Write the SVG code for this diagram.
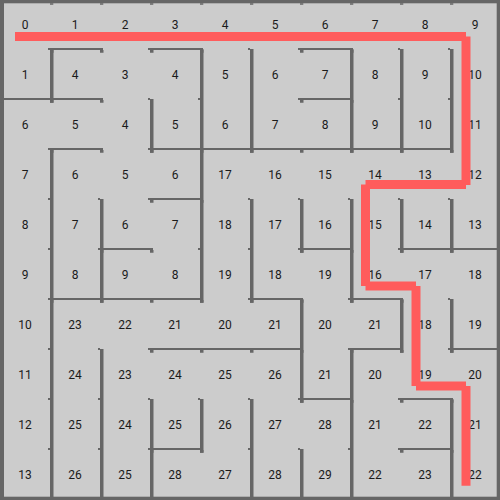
<svg xmlns="http://www.w3.org/2000/svg" width="500" height="500" viewBox="0 0 500 500">
<style>
.w{fill:#666666}
.n{font-family:Roboto,"Liberation Sans",sans-serif;font-size:12px;fill:#1a1a1a;text-anchor:middle}
.p{stroke:#ff5c5c;stroke-width:9;stroke-linecap:butt;fill:none}
</style>
<rect x="0" y="0" width="500" height="500" fill="#cccccc"/>
<g id="border" class="w">
<rect x="0" y="0" width="500" height="3.3"/>
<rect x="0" y="0" width="4" height="500"/>
<rect x="0" y="496.7" width="500" height="3.3"/>
<rect x="496.7" y="0" width="3.3" height="500"/>
<path d="M50 3.3h3.3v1.4h-3.3zM100 3.3h3.3v1.4h-3.3zM150 3.3h3.3v1.4h-3.3zM200 3.3h3.3v1.4h-3.3zM250 3.3h3.3v1.4h-3.3zM300 3.3h3.3v1.4h-3.3zM350 3.3h3.3v1.4h-3.3zM400 3.3h3.3v1.4h-3.3zM450 3.3h3.3v1.4h-3.3z"/>
</g>
<g id="walls" class="w">
<!-- horizontal walls -->
<rect x="48" y="48" width="55" height="2"/>
<rect x="148" y="48" width="55" height="2"/>
<rect x="298" y="48" width="55" height="2"/>
<rect x="-2" y="98" width="105" height="2"/>
<rect x="298" y="98" width="55" height="2"/>
<rect x="48" y="148" width="55" height="2"/>
<rect x="148" y="148" width="305" height="2"/>
<rect x="148" y="198" width="55" height="2"/>
<rect x="98" y="248" width="55" height="2"/>
<rect x="298" y="248" width="55" height="2"/>
<rect x="398" y="248" width="105" height="2"/>
<rect x="48" y="298" width="155" height="2"/>
<rect x="248" y="298" width="55" height="2"/>
<rect x="348" y="298" width="55" height="2"/>
<rect x="148" y="348" width="155" height="2"/>
<rect x="348" y="348" width="55" height="2"/>
<rect x="448" y="348" width="55" height="2"/>
<rect x="298" y="398" width="55" height="2"/>
<rect x="398" y="398" width="55" height="2"/>
<rect x="148" y="448" width="55" height="2"/>
<rect x="398" y="448" width="55" height="2"/>
<!-- caps of horizontal walls -->
<path d="M50 50h3.5v2.7h-3.5zM100 50h3.5v2.7h-3.5zM150 50h3.5v2.7h-3.5zM200 50h3.5v2.7h-3.5zM300 50h3.5v2.7h-3.5zM350 50h3.5v2.7h-3.5z
M0 100h3.5v2.7h-3.5zM50 100h3.5v2.7h-3.5zM100 100h3.5v2.7h-3.5zM300 100h3.5v2.7h-3.5zM350 100h3.5v2.7h-3.5z
M50 150h3.5v2.7h-3.5zM100 150h3.5v2.7h-3.5zM150 150h3.5v2.7h-3.5zM200 150h3.5v2.7h-3.5zM250 150h3.5v2.7h-3.5zM300 150h3.5v2.7h-3.5zM350 150h3.5v2.7h-3.5zM400 150h3.5v2.7h-3.5zM450 150h3.5v2.7h-3.5z
M150 200h3.5v2.7h-3.5zM200 200h3.5v2.7h-3.5z
M100 250h3.5v2.7h-3.5zM150 250h3.5v2.7h-3.5zM300 250h3.5v2.7h-3.5zM350 250h3.5v2.7h-3.5zM400 250h3.5v2.7h-3.5zM450 250h3.5v2.7h-3.5z
M50 300h3.5v2.7h-3.5zM100 300h3.5v2.7h-3.5zM150 300h3.5v2.7h-3.5zM200 300h3.5v2.7h-3.5zM250 300h3.5v2.7h-3.5zM300 300h3.5v2.7h-3.5zM350 300h3.5v2.7h-3.5zM400 300h3.5v2.7h-3.5z
M150 350h3.5v2.7h-3.5zM200 350h3.5v2.7h-3.5zM250 350h3.5v2.7h-3.5zM300 350h3.5v2.7h-3.5zM350 350h3.5v2.7h-3.5zM400 350h3.5v2.7h-3.5zM450 350h3.5v2.7h-3.5z
M300 400h3.5v2.7h-3.5zM350 400h3.5v2.7h-3.5zM400 400h3.5v2.7h-3.5zM450 400h3.5v2.7h-3.5z
M150 450h3.5v2.7h-3.5zM200 450h3.5v2.7h-3.5zM400 450h3.5v2.7h-3.5zM450 450h3.5v2.7h-3.5z"/>
<!-- vertical walls -->
<rect x="50" y="49" width="3.5" height="53.7"/>
<rect x="50" y="149" width="3.5" height="353.7"/>
<rect x="100" y="199" width="3.5" height="103.7"/>
<rect x="100" y="349" width="3.5" height="153.7"/>
<rect x="150" y="99" width="3.5" height="53.7"/>
<rect x="150" y="399" width="3.5" height="103.7"/>
<rect x="200" y="49" width="3.5" height="253.7"/>
<rect x="200" y="399" width="3.5" height="53.7"/>
<rect x="250" y="49" width="3.5" height="103.7"/>
<rect x="250" y="199" width="3.5" height="103.7"/>
<rect x="250" y="399" width="3.5" height="103.7"/>
<rect x="300" y="199" width="3.5" height="53.7"/>
<rect x="300" y="299" width="3.5" height="103.7"/>
<rect x="300" y="449" width="3.5" height="53.7"/>
<rect x="350" y="49" width="3.5" height="103.7"/>
<rect x="350" y="199" width="3.5" height="103.7"/>
<rect x="350" y="349" width="3.5" height="153.7"/>
<rect x="400" y="49" width="3.5" height="103.7"/>
<rect x="400" y="199" width="3.5" height="53.7"/>
<rect x="400" y="299" width="3.5" height="53.7"/>
<rect x="450" y="49" width="3.5" height="103.7"/>
<rect x="450" y="199" width="3.5" height="53.7"/>
<rect x="450" y="299" width="3.5" height="53.7"/>
<rect x="450" y="399" width="3.5" height="103.7"/>
<!-- stubs of vertical walls -->
<path d="M48 48h2v2h-2zM48 148h2v2h-2zM48 198h2v2h-2zM48 248h2v2h-2zM48 348h2v2h-2zM48 398h2v2h-2zM48 448h2v2h-2z
M98 198h2v2h-2zM98 348h2v2h-2zM98 398h2v2h-2zM98 448h2v2h-2z
M148 98h2v2h-2zM148 398h2v2h-2zM148 448h2v2h-2z
M198 98h2v2h-2zM198 198h2v2h-2zM198 248h2v2h-2zM198 398h2v2h-2z
M248 48h2v2h-2zM248 198h2v2h-2zM248 248h2v2h-2zM248 398h2v2h-2zM248 448h2v2h-2z
M298 198h2v2h-2zM298 398h2v2h-2zM298 448h2v2h-2z
M348 48h2v2h-2zM348 198h2v2h-2zM348 348h2v2h-2zM348 448h2v2h-2z
M398 48h2v2h-2zM398 98h2v2h-2zM398 198h2v2h-2zM398 298h2v2h-2z
M448 48h2v2h-2zM448 98h2v2h-2zM448 198h2v2h-2zM448 298h2v2h-2zM448 398h2v2h-2z"/>
</g>
<g id="labels" class="n">
<text x="25" y="29">0</text><text x="75" y="29">1</text><text x="125" y="29">2</text><text x="175" y="29">3</text><text x="225" y="29">4</text><text x="275" y="29">5</text><text x="325" y="29">6</text><text x="375" y="29">7</text><text x="425" y="29">8</text><text x="475" y="29">9</text>
<text x="25" y="79">1</text><text x="75" y="79">4</text><text x="125" y="79">3</text><text x="175" y="79">4</text><text x="225" y="79">5</text><text x="275" y="79">6</text><text x="325" y="79">7</text><text x="375" y="79">8</text><text x="425" y="79">9</text><text x="475" y="79">10</text>
<text x="25" y="129">6</text><text x="75" y="129">5</text><text x="125" y="129">4</text><text x="175" y="129">5</text><text x="225" y="129">6</text><text x="275" y="129">7</text><text x="325" y="129">8</text><text x="375" y="129">9</text><text x="425" y="129">10</text><text x="475" y="129">11</text>
<text x="25" y="179">7</text><text x="75" y="179">6</text><text x="125" y="179">5</text><text x="175" y="179">6</text><text x="225" y="179">17</text><text x="275" y="179">16</text><text x="325" y="179">15</text><text x="375" y="179">14</text><text x="425" y="179">13</text><text x="475" y="179">12</text>
<text x="25" y="229">8</text><text x="75" y="229">7</text><text x="125" y="229">6</text><text x="175" y="229">7</text><text x="225" y="229">18</text><text x="275" y="229">17</text><text x="325" y="229">16</text><text x="375" y="229">15</text><text x="425" y="229">14</text><text x="475" y="229">13</text>
<text x="25" y="279">9</text><text x="75" y="279">8</text><text x="125" y="279">9</text><text x="175" y="279">8</text><text x="225" y="279">19</text><text x="275" y="279">18</text><text x="325" y="279">19</text><text x="375" y="279">16</text><text x="425" y="279">17</text><text x="475" y="279">18</text>
<text x="25" y="329">10</text><text x="75" y="329">23</text><text x="125" y="329">22</text><text x="175" y="329">21</text><text x="225" y="329">20</text><text x="275" y="329">21</text><text x="325" y="329">20</text><text x="375" y="329">21</text><text x="425" y="329">18</text><text x="475" y="329">19</text>
<text x="25" y="379">11</text><text x="75" y="379">24</text><text x="125" y="379">23</text><text x="175" y="379">24</text><text x="225" y="379">25</text><text x="275" y="379">26</text><text x="325" y="379">21</text><text x="375" y="379">20</text><text x="425" y="379">19</text><text x="475" y="379">20</text>
<text x="25" y="429">12</text><text x="75" y="429">25</text><text x="125" y="429">24</text><text x="175" y="429">25</text><text x="225" y="429">26</text><text x="275" y="429">27</text><text x="325" y="429">28</text><text x="375" y="429">21</text><text x="425" y="429">22</text><text x="475" y="429">21</text>
<text x="25" y="479">13</text><text x="75" y="479">26</text><text x="125" y="479">25</text><text x="175" y="479">28</text><text x="225" y="479">27</text><text x="275" y="479">28</text><text x="325" y="479">29</text><text x="375" y="479">22</text><text x="425" y="479">23</text><text x="475" y="479">22</text>
</g>
<g id="path" class="p">
<line x1="15" y1="36.5" x2="466" y2="36.5"/>
<line x1="466" y1="36.5" x2="466" y2="185"/>
<line x1="466" y1="184.5" x2="365.5" y2="184.5"/>
<line x1="365.5" y1="184.5" x2="365.5" y2="286"/>
<line x1="365.5" y1="286" x2="416" y2="286"/>
<line x1="416" y1="286" x2="416" y2="386"/>
<line x1="416" y1="386" x2="466" y2="386"/>
<line x1="466" y1="386" x2="466" y2="485.7"/>
</g>
</svg>
